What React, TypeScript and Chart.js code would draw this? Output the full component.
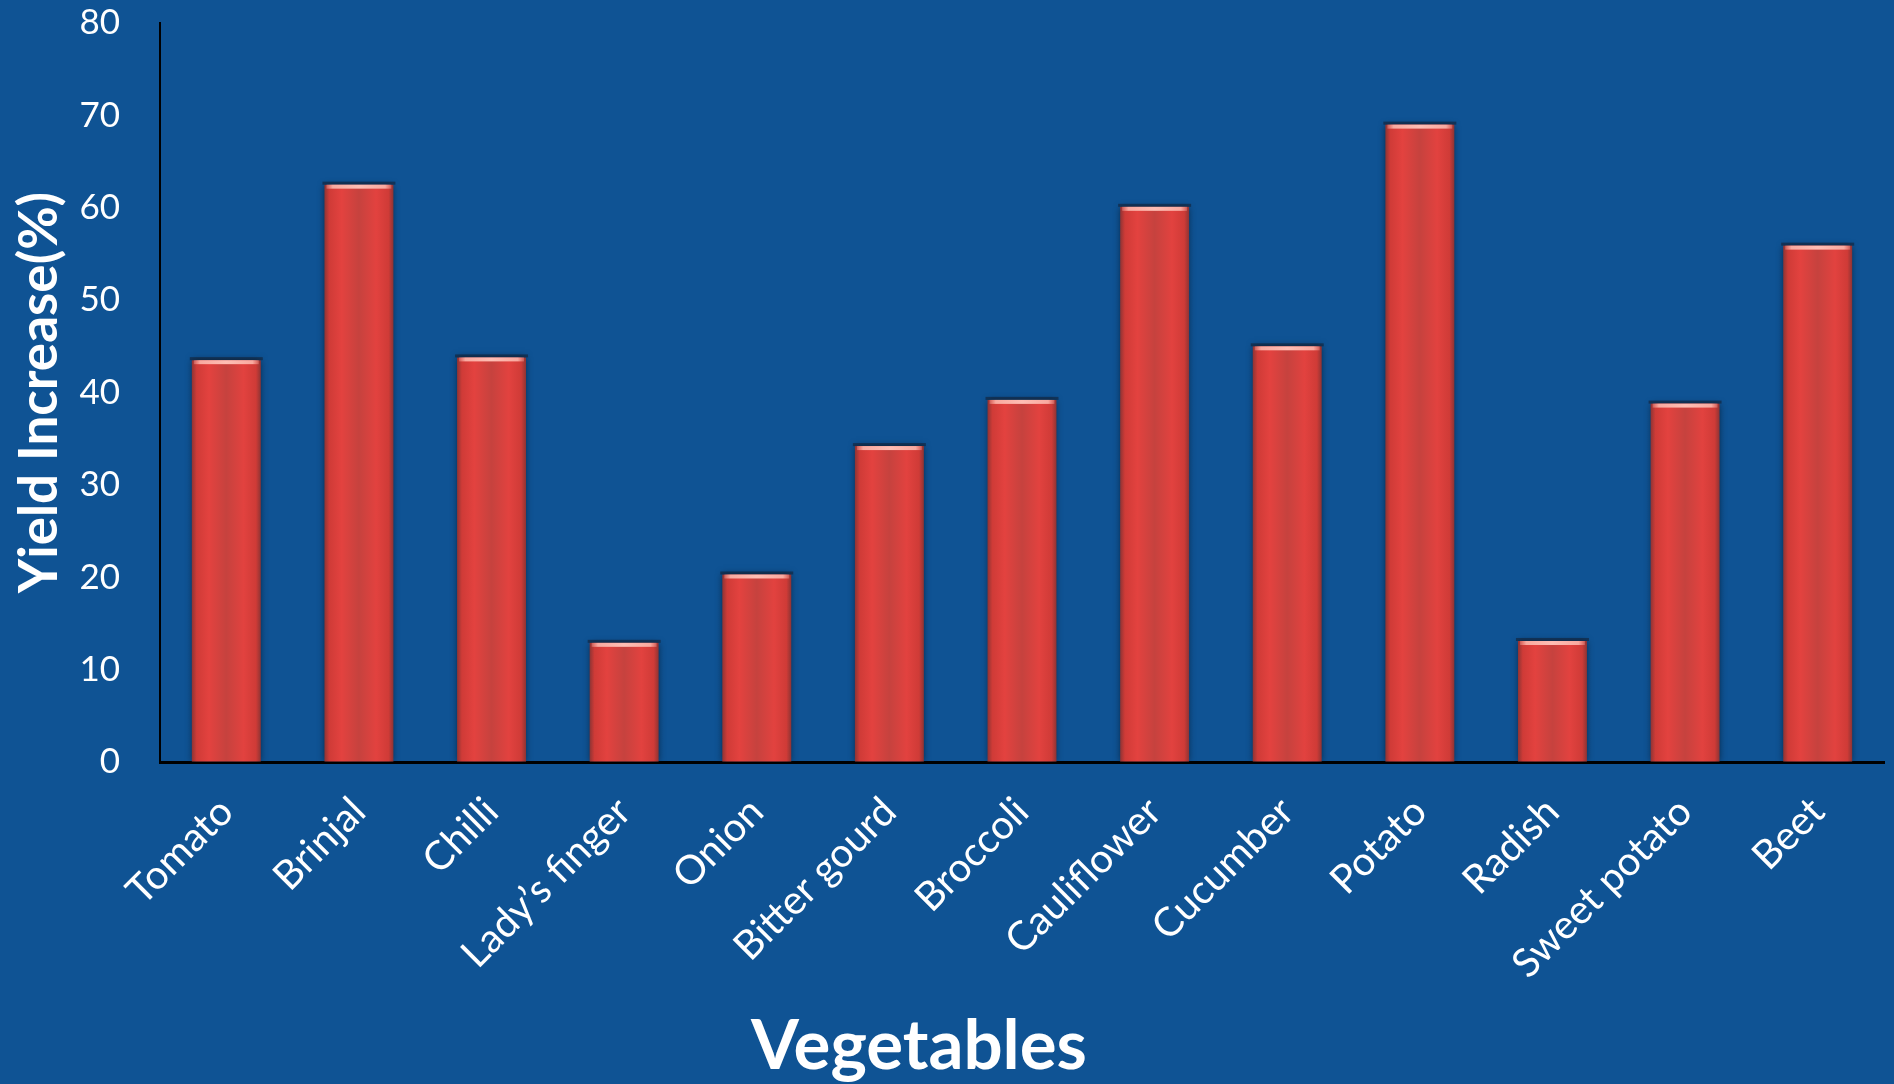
import React, { useEffect, useRef } from 'react';
import { Chart, registerables } from 'chart.js';

Chart.register(...registerables);

const categories = [
  'Tomato', 'Brinjal', 'Chilli', 'Lady\u2019s finger', 'Onion', 'Bitter gourd', 'Broccoli',
  'Cauliflower', 'Cucumber', 'Potato', 'Radish', 'Sweet potato', 'Beet',
];
const yieldIncrease = [43.5, 62.5, 43.8, 12.9, 20.3, 34.2, 39.2, 60.1, 45.0, 69.0, 13.1, 38.8, 55.9];
const yMin = 0;
const yMax = 80;
const yStep = 10;
const xTitle = 'Vegetables';
const yTitle = 'Yield Increase(%)';

const BG = '#0f5394';
const BAR_FRACTION = 0.52;

export default function App() {
  const ref = useRef<HTMLCanvasElement>(null);

  useEffect(() => {
    document.body.style.margin = '0';
    document.body.style.background = BG;
    const canvas = ref.current!;

    const barDeco = {
      id: 'barDeco',
      beforeDatasetsDraw(chart: any) {
        const ctx = chart.ctx;
        ctx.save();
        ctx.shadowColor = 'rgba(5,25,45,0.75)';
        ctx.shadowBlur = 7;
      },
      afterDatasetsDraw(chart: any) {
        const ctx = chart.ctx;
        ctx.restore();
        const meta = chart.getDatasetMeta(0);
        ctx.save();
        meta.data.forEach((el: any) => {
          const { x, y, width } = el.getProps(['x', 'y', 'width'], true);
          const left = x - width / 2;
          ctx.fillStyle = 'rgba(20,30,45,0.55)';
          ctx.fillRect(left - 2, y - 3, width + 4, 3);
          const g = ctx.createLinearGradient(left, 0, left + width, 0);
          g.addColorStop(0, 'rgba(240,150,140,0.2)');
          g.addColorStop(0.12, 'rgba(250,175,165,0.95)');
          g.addColorStop(0.5, 'rgba(255,190,180,1)');
          g.addColorStop(0.88, 'rgba(250,175,165,0.95)');
          g.addColorStop(1, 'rgba(240,150,140,0.2)');
          ctx.fillStyle = g;
          ctx.fillRect(left + 2, y, width - 4, 4);
        });
        ctx.restore();
      },
    };

    const titles = {
      id: 'titles',
      afterDraw(chart: any) {
        const ctx = chart.ctx;
        ctx.save();
        ctx.fillStyle = '#ffffff';
        ctx.font = 'bold 69px Lato';
        ctx.textAlign = 'center';
        ctx.textBaseline = 'alphabetic';
        ctx.fillText(xTitle, 919, 1069);
        ctx.translate(57, (chart.chartArea.top + chart.chartArea.bottom) / 2);
        ctx.rotate(-Math.PI / 2);
        ctx.font = 'bold 53px Lato';
        ctx.fillText(yTitle, 0, 0);
        ctx.restore();
      },
    };

    const chart = new Chart(canvas, {
      type: 'bar',
      data: {
        labels: categories,
        datasets: [
          {
            data: yieldIncrease,
            borderWidth: 0,
            categoryPercentage: 1,
            barPercentage: BAR_FRACTION,
            backgroundColor: (c: any) => {
              const chart = c.chart;
              const xs = chart.scales && chart.scales.x;
              if (!xs || c.type !== 'data' || !xs.width) return '#d8403c';
              const cx = xs.getPixelForValue(c.dataIndex);
              const w = (xs.width / categories.length) * BAR_FRACTION;
              const g = chart.ctx.createLinearGradient(cx - w / 2, 0, cx + w / 2, 0);
              g.addColorStop(0, '#8e3434');
              g.addColorStop(0.07, '#cf3b37');
              g.addColorStop(0.25, '#e3423f');
              g.addColorStop(0.5, '#c6423e');
              g.addColorStop(0.75, '#e2423f');
              g.addColorStop(0.93, '#cf3b37');
              g.addColorStop(1, '#8e3434');
              return g;
            },
          },
        ],
      },
      options: {
        animation: false,
        responsive: true,
        maintainAspectRatio: false,
        layout: { padding: { top: 23, right: 10, left: 0, bottom: 0 } },
        plugins: {
          legend: { display: false },
          tooltip: { enabled: false },
          title: { display: false },
        },
        scales: {
          x: {
            grid: { display: false, drawTicks: false },
            border: { display: true, color: '#000000', width: 3 },
            ticks: {
              color: '#ffffff',
              font: { family: 'Lato', size: 40 },
              minRotation: 45,
              maxRotation: 45,
              autoSkip: false,
              padding: 26,
            },
            afterFit: (s: any) => {
              s.height = 322;
            },
          },
          y: {
            min: yMin,
            max: yMax,
            grid: {
              display: true,
              drawOnChartArea: false,
              drawTicks: true,
              tickLength: 40,
              tickColor: 'rgba(0,0,0,0)',
              color: 'rgba(0,0,0,0)',
            },
            border: { display: true, color: '#000000', width: 2 },
            ticks: {
              stepSize: yStep,
              color: '#ffffff',
              font: { family: 'Lato', size: 35 },
              padding: 0,
            },
            afterFit: (s: any) => {
              s.width = 160;
            },
          },
        },
      },
      plugins: [barDeco, titles],
    });

    return () => chart.destroy();
  }, []);

  return (
    <div style={{ width: 1894, height: 1084, background: BG, position: 'relative' }}>
      <canvas ref={ref} />
    </div>
  );
}
